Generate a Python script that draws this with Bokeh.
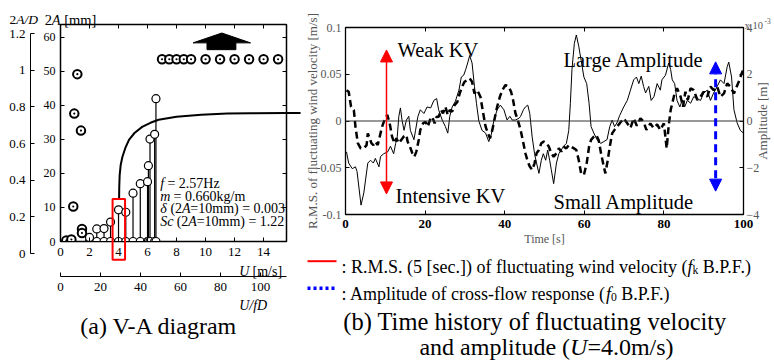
import math
from bokeh.plotting import figure
from bokeh.models import (Range1d, LinearAxis, FixedTicker, Arrow, NormalHead,
                          Span, CustomJSTickFormatter, Grid)
from bokeh.core.properties import value
from bokeh.layouts import row, column
from bokeh.embed import file_html
from bokeh.resources import INLINE

FONT = "Liberation Serif"

# ---------------- (a) V-A diagram data ----------------
u_dot = [0.40, 0.75, 0.88, 0.95, 1.16, 1.41, 1.48, 1.48]
a_dot = [0.3, 0.6, 10.3, 37.6, 49.2, 32.6, 3.7, 2.5]
u_stem = [2.0, 2.5, 3.0, 3.45, 4.0, 4.5, 5.0, 5.5, 6.0, 6.06, 6.17, 6.49, 6.58]
a_stem = [1.2, 3.7, 3.8, 5.7, 9.3, 8.6, 14.2, 17.0, 17.6, 22.3, 30.1, 31.5, 42.0]
u_sat = [7.0, 7.5, 8.0, 8.5, 9.0, 10.0, 11.0, 12.0, 13.0, 14.0, 15.0]
a_sat = [53.6, 53.6, 53.6, 53.6, 53.6, 53.6, 53.6, 53.6, 53.6, 53.6, 53.6]
u_ticks = [0, 2, 4, 6, 8, 10, 12, 14]
a_ticks = [0, 10, 20, 30, 40, 50, 60]
ad_ticks = [0, 0.2, 0.4, 0.6, 0.8, 1.0, 1.2]
ufd_ticks = [0, 20, 40, 60, 80, 100]

# annotation geometry of (a)
box_u = [3.59, 4.45]
box_a = [-5.4, 12.5]
link_u = [4.04, 4.05, 4.08, 4.15, 4.27, 4.47, 4.72, 5.1, 5.63, 6.2, 6.76, 8.0, 9.7, 11.5, 13.1, 15.58, 16.0]
link_a = [12.4, 16.0, 19.6, 22.5, 24.9, 27.5, 29.9, 31.9, 33.7, 34.9, 35.8, 36.7, 37.3, 37.6, 37.7, 37.8, 37.8]
bigarrow_u = [9.14, 11.12, 13.1, 12.09, 12.09, 10.1, 10.1]
bigarrow_a = [58.4, 61.3, 58.4, 58.4, 56.4, 56.4, 58.4]

# ---------------- (b) time history data ----------------
t_rms = [0.25, 0.8, 1.7, 2.5, 2.9, 3.9, 4.6, 5.6, 6.3, 7.0, 7.5, 8.4, 8.8, 9.6, 10.6, 11.3, 12.1, 12.6, 13.0,
         13.4, 13.8, 14.2, 14.7, 15.3, 15.9, 16.3, 17.2, 17.6, 18.2, 18.8, 19.7, 20.5, 21.4, 22.2, 22.9, 23.4,
         24.3, 25.1, 25.7, 26.2, 26.8, 27.6, 28.5, 29.1, 29.7, 30.2, 30.7, 31.2, 31.8, 32.4, 32.9, 33.5, 34.3,
         35.2, 36.0, 36.6, 37.3, 38.1, 38.9, 39.8, 40.6, 41.3, 41.9, 42.7, 43.6, 44.0, 44.7, 45.2, 45.8, 46.3,
         46.9, 47.5, 48.0, 48.6, 49.2, 49.7, 50.3, 50.8, 51.3, 51.7, 52.3, 53.0, 53.6, 54.2, 54.8, 55.5, 56.1,
         56.5, 56.9, 57.5, 58.0, 58.6, 59.2, 59.9, 60.6, 61.2, 61.7, 62.4, 63.2, 64.1, 64.9, 65.7, 66.4, 67.0,
         67.6, 68.2, 68.9, 69.9, 70.8, 71.6, 72.4, 73.1, 73.7, 74.3, 74.9, 75.4, 76.2, 76.8, 77.5, 78.3, 79.1,
         79.5, 80.4, 81.2, 81.7, 82.1, 82.7, 83.3, 84.0, 84.6, 85.2, 85.9, 86.7, 87.5, 88.4, 89.2, 90.0, 90.9,
         91.7, 92.5, 93.4, 94.2, 95.1, 95.9, 96.3, 97.0, 97.6, 98.4, 99.2, 100.0]
v_rms = [-0.033, -0.045, -0.051, -0.049, -0.054, -0.090, -0.077, -0.045, -0.042, -0.045, -0.040, -0.049, -0.038,
         -0.035, -0.033, -0.027, -0.035, -0.024, -0.017, 0.005, 0.014, 0.001, -0.010, 0.001, 0.005, -0.010,
         -0.020, -0.010, 0.005, 0.012, 0.008, 0.015, 0.014, 0.022, 0.024, 0.012, 0.001, -0.006, -0.013, 0.005,
         0.015, 0.021, 0.033, 0.047, 0.049, 0.055, 0.062, 0.070, 0.062, 0.037, 0.019, 0.000, -0.010, -0.013,
         -0.022, -0.015, 0.001, 0.012, 0.017, 0.012, 0.001, 0.005, 0.001, 0.001, 0.003, 0.005, 0.012, 0.015,
         0.017, 0.008, -0.017, -0.035, -0.045, -0.056, -0.042, -0.035, -0.042, -0.031, -0.042, -0.052, -0.067,
         -0.045, -0.035, -0.031, -0.027, -0.024, -0.010, 0.019, 0.055, 0.083, 0.092, 0.080, 0.065, 0.047,
         0.040, 0.019, -0.006, -0.013, -0.020, -0.024, -0.022, -0.020, -0.006, 0.001, -0.006, -0.002, 0.006,
         0.015, 0.022, 0.033, 0.044, 0.047, 0.040, 0.048, 0.037, 0.030, 0.037, 0.022, 0.026, 0.040, 0.033,
         0.044, 0.049, 0.062, 0.055, 0.044, 0.040, 0.022, 0.015, 0.022, 0.015, 0.022, 0.019, 0.026, 0.024,
         0.022, 0.030, 0.033, 0.022, 0.030, 0.037, 0.044, 0.040, 0.058, 0.063, 0.047, 0.012, -0.002, -0.010,
         -0.013]
t_amp = [0.25, 0.8, 1.4, 2.1, 2.5, 3.1, 3.8, 4.6, 5.3, 5.6, 6.1, 6.5, 7.0, 7.5, 8.1, 8.6, 9.2, 9.8, 10.5, 11.1,
         11.7, 12.3, 12.8, 13.4, 14.0, 14.6, 15.3, 15.6, 16.2, 16.8, 17.3, 17.8, 18.4, 18.8, 19.5, 20.1, 20.7,
         21.2, 21.8, 22.4, 22.9, 23.4, 24.0, 24.5, 25.1, 25.7, 26.2, 26.8, 27.4, 28.1, 28.7, 29.3, 29.9, 30.6,
         31.2, 31.8, 32.4, 33.1, 33.9, 34.6, 35.2, 35.8, 36.3, 36.9, 37.4, 38.1, 38.8, 39.4, 40.2, 41.0, 41.6,
         42.1, 42.7, 43.3, 44.0, 44.7, 45.2, 45.8, 46.3, 46.9, 47.5, 48.0, 48.6, 49.2, 49.8, 50.5, 51.1, 51.7,
         52.3, 53.0, 53.6, 54.2, 54.8, 55.5, 56.1, 56.7, 57.4, 58.0, 58.6, 59.2, 59.9, 60.6, 61.2, 61.7, 62.4,
         63.0, 63.6, 64.2, 64.9, 65.3, 65.9, 66.4, 67.0, 67.6, 68.2, 68.9, 69.9, 70.8, 71.6, 72.4, 73.2, 74.1,
         74.9, 75.6, 76.6, 77.4, 78.3, 79.1, 80.0, 80.7, 81.2, 81.7, 82.7, 83.3, 84.2, 84.8, 85.4, 86.0, 86.7,
         87.5, 88.4, 89.2, 90.0, 90.9, 91.7, 92.5, 93.4, 94.2, 95.1, 95.9, 96.7, 97.6, 98.8, 99.7, 100.0]
a_amp = [1.32, 1.25, 0.61, 0.47, -0.24, -0.95, -1.17, -1.17, -1.03, -0.53, -0.74, -0.95, -1.03, -0.88, -1.03,
         -0.67, -0.24, 0.04, 0.26, -0.10, -0.67, -0.95, -0.74, -0.95, -0.81, -0.67, -0.60, -0.88, -1.10, -1.38,
         -1.53, -1.31, -0.81, -0.38, -0.10, -0.03, -0.24, 0.04, 0.18, -0.10, 0.18, 0.18, 0.47, 0.33, 0.61, 0.26,
         0.47, 0.40, 0.68, 0.82, 1.18, 1.47, 1.68, 1.75, 1.82, 1.68, 1.18, 1.32, 1.04, 0.33, -0.24, -0.53, -0.74,
         -0.38, 0.04, 0.61, 1.04, 1.32, 1.54, 1.47, 1.25, 0.90, 0.33, 0.04, -0.38, -0.95, -1.38, -1.74, -1.95,
         -2.09, -1.81, -1.38, -1.24, -0.95, -0.88, -0.95, -1.10, -1.38, -1.53, -1.38, -1.17, -1.31, -1.10, -1.17,
         -1.03, -1.10, -1.17, -1.24, -1.67, -2.24, -2.31, -1.81, -1.10, -0.81, -0.67, -0.60, -0.81, -1.38, -1.95,
         -2.24, -1.67, -1.10, -0.53, -0.38, -0.24, -0.10, 0.11, -0.10, -0.30, 0.11, -0.20, 0.11, -0.03, -0.38,
         -0.10, -0.30, -0.15, -0.38, -0.10, -1.17, -0.20, 0.47, 1.18, 1.40, 1.04, 0.61, 1.25, 0.90, 1.40, 1.32,
         0.90, 1.04, 1.25, 1.04, 1.47, 1.32, 1.47, 1.04, 1.18, 1.61, 1.47, 1.18, 1.68, 2.11, 2.18]
t_ticks = [0, 20, 40, 60, 80, 100]
v_ticks = [-0.1, -0.05, 0, 0.05, 0.1]
amp_ticks = [-4, -2, 0, 2, 4]

# annotation geometry of (b)
kv_arrow = [10.3, -0.078, 0.076]      # t, bottom, top  (m/s)
amp_arrow = [93.0, -3.0, 2.53]         # t, bottom, top  (x1e-3 m)

# ---------------- text metrics (Times / Liberation Serif) ----------------
REG = {' ': 250, '(': 333, ')': 333, '-': 333, '.': 250, '/': 278, ':': 278, '=': 564, '[': 333, ']': 333,
       'A': 722, 'B': 667, 'D': 722, 'F': 556, 'H': 722, 'K': 722, 'L': 611, 'M': 889, 'P': 556, 'R': 667,
       'S': 556, 'T': 611, 'U': 722, 'V': 722, 'W': 944, 'a': 444, 'b': 500, 'c': 444, 'd': 500, 'e': 444,
       'f': 333, 'g': 500, 'h': 500, 'i': 278, 'k': 500, 'l': 278, 'm': 778, 'n': 500, 'o': 500, 'p': 500,
       'r': 333, 's': 389, 't': 278, 'u': 500, 'v': 500, 'w': 722, 'x': 500, 'y': 500, 'z': 444}
ITA = {'A': 611, 'D': 722, 'U': 722, 'S': 500, 'c': 444, 'f': 278, 'm': 722, 'k': 444, '/': 278,
       '\u03b4': 490, ' ': 250}


def tw(s, size, style="normal"):
    tab = ITA if "italic" in style else {}
    return sum(tab.get(c, REG.get(c, 500)) for c in s) * size / 1000.0


def mk_map(p0, p1, d0, d1):
    return lambda p: d0 + (p - p0) * (d1 - d0) / (p1 - p0)


def put_text(fig, m, x, y, txt, size, style="normal", color="black", align="left",
             baseline="alphabetic", angle=0.0):
    fx, fy = m
    fig.text(x=[fx(x)], y=[fy(y)], text=[txt], text_font=value(FONT), text_font_size=value(f"{size:.1f}px"),
             text_font_style=value(style), text_color=color, text_align=value(align),
             text_baseline=value(baseline), angle=angle, level="overlay")


def rich(fig, m, x, y, pieces, size, color="black", align="left"):
    items = []
    for p in pieces:
        sc = p[2] if len(p) > 2 else 1.0
        dy = p[3] if len(p) > 3 else 0.0
        items.append((p[0], p[1], size * sc, dy))
    total = sum(tw(t, s, st) for t, st, s, dy in items)
    if align == "center":
        x -= total / 2.0
    for t, st, s, dy in items:
        lead = len(t) - len(t.lstrip(" "))
        x0 = x + tw(" " * lead, s, st)
        txt = t.strip(" ")
        if txt:
            put_text(fig, m, x0, y + dy, txt, s, style=st, color=color)
        x += tw(t, s, st)


def make_fig(w, h, xr, yr, left, right, top, bottom):
    f = figure(width=w, height=h, x_range=xr, y_range=yr, output_backend="svg",
               toolbar_location=None, tools="", x_axis_location=None, y_axis_location=None,
               min_border_left=left, min_border_right=right, min_border_top=top, min_border_bottom=bottom)
    if "frame_align" in f.properties():
        f.frame_align = False
    for g in f.select(type=Grid):
        g.visible = False
    f.background_fill_color = "white"
    f.border_fill_color = "white"
    return f


def style_axis(ax, size="13px", color="black", standoff=5, tick_in=4, labels=True, bold=False):
    ax.axis_line_color = "black"
    ax.axis_line_width = 1
    ax.major_tick_in = tick_in
    ax.major_tick_out = 0
    ax.major_tick_line_color = "black"
    ax.minor_tick_line_color = None
    ax.major_label_text_font = FONT
    ax.major_label_text_font_size = size
    ax.major_label_text_color = color
    ax.major_label_standoff = standoff
    if bold:
        ax.major_label_text_font_style = "bold"
    if not labels:
        ax.formatter = CustomJSTickFormatter(code="return ''")
        ax.major_label_text_font_size = "1px"
        ax.major_label_standoff = 0
    return ax


H = 362

# ---------------- outer 2A/D axis figure (page x 0..40) ----------------
figA = make_fig(40, H, Range1d(0, 1), Range1d(0, 1.2), 30, 6, 33, 109)
figA.outline_line_color = None
mA = (mk_map(30, 34, 0, 1), mk_map(253, 33, 0, 1.2))
axA = LinearAxis(ticker=FixedTicker(ticks=ad_ticks),
                 formatter=CustomJSTickFormatter(code="if (Math.abs(tick) < 1e-9) return '0'; if (Math.abs(tick - 1) < 1e-9) return '1'; return tick.toFixed(1);"))
style_axis(axA, size="13px", standoff=5)
figA.add_layout(axA, "left")
rich(figA, mA, 9, 19, [("2", "normal"), ("A/D", "italic")], 13.5)

# ---------------- (a) V-A diagram (page x 40..301) ----------------
figL = make_fig(261, H, Range1d(0, 15.58), Range1d(0, 63.8), 17, 15, 24, 121)
figL.extra_x_ranges = {"ufd": Range1d(0, 113.0)}
figL.outline_line_color = "black"
figL.outline_line_width = 1.5
mL = (mk_map(57, 286, 0, 15.58), mk_map(241, 24, 0, 63.8))

figL.add_layout(style_axis(LinearAxis(ticker=FixedTicker(ticks=a_ticks)), size="12px", standoff=5), "left")
figL.add_layout(style_axis(LinearAxis(ticker=FixedTicker(ticks=a_ticks)), labels=False), "right")
figL.add_layout(style_axis(LinearAxis(ticker=FixedTicker(ticks=u_ticks)), labels=False), "above")
axU = style_axis(LinearAxis(ticker=FixedTicker(ticks=u_ticks)), size="13px", standoff=6)
axU.axis_label = "\u00a0"
axU.axis_label_text_font_size = "12px"
axU.axis_label_standoff = 1
figL.add_layout(axU, "below")
axF = style_axis(LinearAxis(ticker=FixedTicker(ticks=ufd_ticks), x_range_name="ufd"), size="13px", standoff=6)
figL.add_layout(axF, "below")

zeros = [0.0] * len(u_stem)
figL.segment(u_stem, zeros, u_stem, a_stem, line_color="black", line_width=1.2)
figL.scatter(u_stem, zeros, marker="circle", size=8, fill_color="white", line_color="black", line_width=1.2)
figL.scatter(u_stem, a_stem, marker="circle", size=8, fill_color="white", line_color="black", line_width=1.2)
figL.scatter(u_dot, a_dot, marker="circle_dot", size=8.5, fill_color="white", line_color="black", line_width=2)
figL.scatter(u_sat, a_sat, marker="circle_dot", size=8.5, fill_color="white", line_color="black", line_width=2)
figL.patch(bigarrow_u, bigarrow_a, fill_color="black", line_color="black")
figL.line(link_u, link_a, line_width=2, line_color="black", level="overlay")
figL.add_layout(Arrow(x_start=15.9, y_start=link_a[-1], x_end=16.55, y_end=link_a[-1],
                      end=NormalHead(size=9, fill_color="black", line_color="black"),
                      line_width=2, line_color="black"))
figL.quad(left=[box_u[0]], right=[box_u[1]], bottom=[box_a[0]], top=[box_a[1]],
          fill_alpha=0, line_color="red", line_width=2, level="overlay")

rich(figL, mL, 41, 19, [("2", "normal"), ("A", "italic"), (" [mm]", "normal")], 14.5)
rich(figL, mL, 158, 183, [("f", "italic"), (" = 2.57Hz", "normal")], 14)
rich(figL, mL, 158, 195.5, [("m", "italic"), (" = 0.660kg/m", "normal")], 14)
rich(figL, mL, 158, 208, [("\u03b4", "italic"), (" (2", "normal"), ("A", "italic"), ("=10mm) = 0.003", "normal")], 14)
rich(figL, mL, 158, 220.5, [("Sc", "italic"), (" (2", "normal"), ("A", "italic"), ("=10mm) = 1.22", "normal")], 14)
rich(figL, mL, 238, 271, [("U", "italic"), (" [m/s]", "normal")], 14)
rich(figL, mL, 238, 305, [("U/fD", "italic")], 14)
rich(figL, mL, 157, 325, [("(a) V-A diagram", "normal")], 24, align="center")

# ---------------- (b) time history (page x 301..774) ----------------
figR = make_fig(473, H, Range1d(0, 100), Range1d(-0.1, 0.1), 44, 31, 27, 148)
figR.extra_y_ranges = {"amp": Range1d(-4, 4)}
figR.outline_line_color = "black"
figR.outline_line_width = 1.3
mR = (mk_map(345, 743, 0, 100), mk_map(214, 27, -0.1, 0.1))

axV = LinearAxis(ticker=FixedTicker(ticks=v_ticks),
                 formatter=CustomJSTickFormatter(code="if (Math.abs(tick) < 1e-9) return '0'; return String(Math.round(tick * 100) / 100);"))
figR.add_layout(style_axis(axV, size="12px", color="#555555", standoff=4), "left")
axAmp = LinearAxis(ticker=FixedTicker(ticks=amp_ticks), y_range_name="amp")
figR.add_layout(style_axis(axAmp, size="12px", color="#555555", standoff=3), "right")
figR.add_layout(style_axis(LinearAxis(ticker=FixedTicker(ticks=t_ticks)), labels=False), "above")
figR.add_layout(style_axis(LinearAxis(ticker=FixedTicker(ticks=t_ticks)), size="13px", standoff=5, bold=True), "below")

figR.add_layout(Span(location=0, dimension="width", line_color="#333333", line_width=1))
figR.line(t_rms, v_rms, line_color="black", line_width=1)
figR.line(t_amp, a_amp, y_range_name="amp", line_color="black", line_width=2.5, line_dash="7 4")

figR.add_layout(Arrow(x_start=kv_arrow[0], y_start=kv_arrow[1], x_end=kv_arrow[0], y_end=kv_arrow[2],
                      start=NormalHead(size=12, fill_color="red", line_color="red", line_width=1),
                      end=NormalHead(size=12, fill_color="red", line_color="red", line_width=1),
                      line_color="red", line_width=1.5))
figR.add_layout(Arrow(x_start=amp_arrow[0], y_start=amp_arrow[1], x_end=amp_arrow[0], y_end=amp_arrow[2],
                      y_range_name="amp",
                      start=NormalHead(size=12, fill_color="blue", line_color="blue", line_width=1),
                      end=NormalHead(size=12, fill_color="blue", line_color="blue", line_width=1),
                      line_color="blue", line_width=3, line_dash="8 5"))

rich(figR, mR, 397, 49.3, [("Weak KV", "normal")], 20.5)
rich(figR, mR, 395, 195, [("Intensive KV", "normal")], 20.5)
rich(figR, mR, 563, 59.3, [("Large Amplitude", "normal")], 20.5)
rich(figR, mR, 553, 201.7, [("Small Amplitude", "normal")], 20.5)
rich(figR, mR, 744, 25, [("x 10", "normal")], 10.5, color="#555555")
rich(figR, mR, 764, 20, [("-3", "normal")], 7.5, color="#555555")

put_text(figR, mR, 312, 120.5, "R.M.S. of fluctuating wind velocity [m/s]", 13, color="#555555",
         align="center", baseline="middle", angle=math.pi / 2)
put_text(figR, mR, 762, 120.5, "Amplitude [m]", 13, color="#555555",
         align="center", baseline="middle", angle=math.pi / 2)
put_text(figR, mR, 544, 238, "Time [s]", 12, color="#555555", align="center", baseline="middle")

# legend
fxR, fyR = mR
figR.segment(x0=[fxR(307)], y0=[fyR(260.7)], x1=[fxR(336)], y1=[fyR(260.7)],
             line_color="red", line_width=2, level="overlay")
figR.segment(x0=[fxR(307)], y0=[fyR(287.7)], x1=[fxR(336)], y1=[fyR(287.7)],
             line_color="blue", line_width=3.5, line_dash="3 3", level="overlay")
rich(figR, mR, 341, 266, [(": R.M.S. (5 [sec.]) of fluctuating wind velocity (", "normal"), ("f", "italic"),
                          ("k", "normal", 0.65, 3.5), (" B.P.F.)", "normal")], 18)
rich(figR, mR, 341, 293, [(": Amplitude of cross-flow response (", "normal"), ("f", "italic"),
                          ("0", "normal", 0.65, 3.5), (" B.P.F.)", "normal")], 18)
rich(figR, mR, 535, 321, [("(b) Time history of fluctuating velocity", "normal")], 24.5, align="center")
rich(figR, mR, 546, 346, [("and amplitude (", "normal"), ("U", "italic"), ("=4.0m/s)", "normal")], 24,
     align="center")

layout = row(column(figA), column(figL), column(figR))
open("out.html", "w").write(file_html(layout, INLINE))
